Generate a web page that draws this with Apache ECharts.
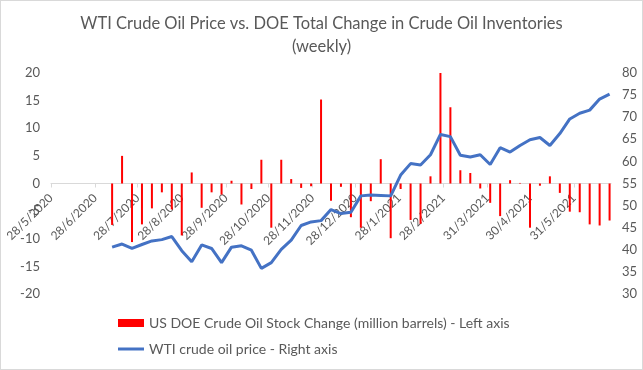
<!DOCTYPE html>
<html>
<head>
<meta charset="utf-8">
<script src="https://cdn.jsdelivr.net/npm/echarts@6/dist/echarts.min.js"></script>
<style>
  html, body { margin: 0; padding: 0; background: #fff; }
  #chart { width: 643px; height: 370px; box-sizing: border-box; border: 1px solid #d9d9d9; }
</style>
</head>
<body>
<div id="chart"></div>
<script>
// weekly dates (week ending)
const weeks = [
  '2020-07-10','2020-07-17','2020-07-24','2020-07-31','2020-08-07','2020-08-14','2020-08-21','2020-08-28',
  '2020-09-04','2020-09-11','2020-09-18','2020-09-25','2020-10-02','2020-10-09','2020-10-16','2020-10-23',
  '2020-10-30','2020-11-06','2020-11-13','2020-11-20','2020-11-27','2020-12-04','2020-12-11','2020-12-18',
  '2020-12-25','2021-01-01','2021-01-08','2021-01-15','2021-01-22','2021-01-29','2021-02-05','2021-02-12',
  '2021-02-19','2021-02-26','2021-03-05','2021-03-12','2021-03-19','2021-03-26','2021-04-02','2021-04-09',
  '2021-04-16','2021-04-23','2021-04-30','2021-05-07','2021-05-14','2021-05-21','2021-05-28','2021-06-04',
  '2021-06-11','2021-06-18','2021-06-25'
];
// US DOE crude oil stock change, million barrels (left axis)
const stockChange = [
  -7.5, 5.0, -10.6, -7.4, -4.5, -1.6, -4.7, -9.4,
  2.0, -4.4, -1.6, -2.0, 0.5, -3.8, -1.0, 4.3,
  -8.0, 4.3, 0.8, -0.8, -0.5, 15.2, -3.1, -0.6,
  -6.1, -8.0, -3.2, 4.4, -9.9, -1.0, -6.6, -7.3,
  1.3, 20.0, 13.8, 2.4, 1.9, -0.9, -3.5, -5.9,
  0.6, 0.1, -8.0, -0.4, 1.3, -1.7, -5.1, -5.2,
  -7.4, -7.6, -6.7
];
// WTI crude oil price (right axis)
const wtiPrice = [
  40.6, 41.3, 40.3, 41.2, 42.0, 42.3, 43.0, 39.8,
  37.3, 41.1, 40.3, 37.1, 40.6, 40.9, 39.9, 35.8,
  37.1, 40.1, 42.2, 45.5, 46.3, 46.6, 49.1, 48.2,
  48.5, 52.2, 52.4, 52.3, 52.2, 56.9, 59.5, 59.2,
  61.5, 66.1, 65.6, 61.4, 61.0, 61.5, 59.3, 63.1,
  62.1, 63.6, 64.9, 65.4, 63.6, 66.3, 69.6, 70.9,
  71.6, 74.1, 75.2
];
// x axis labels
const tickDates = ['2020-05-28','2020-06-28','2020-07-28','2020-08-28','2020-09-28','2020-10-28',
  '2020-11-28','2020-12-28','2021-01-28','2021-02-28','2021-03-31','2021-04-30','2021-05-31'];
const axisStart = '2020-05-28';
const axisEnd = '2021-06-26';

function t(s) {
  const p = s.split('-').map(Number);
  return Date.UTC(p[0], p[1] - 1, p[2]);
}

const font = 'Lato, "Liberation Sans", sans-serif';
const grey = '#595959';

var myChart = echarts.init(document.getElementById('chart'));

var option = {
  animation: false,
  textStyle: { fontFamily: font },
  title: {
    text: 'WTI Crude Oil Price vs. DOE Total Change in Crude Oil Inventories\n(weekly)',
    left: 'center',
    top: 6,
    textStyle: { fontSize: 16.5, fontWeight: 'normal', color: grey, lineHeight: 23, fontFamily: font }
  },
  legend: {
    orient: 'vertical',
    left: 112,
    top: 310,
    itemWidth: 26,
    itemHeight: 8,
    itemGap: 12,
    textStyle: { fontSize: 14, color: grey, fontFamily: font },
    data: [
      { name: 'US DOE Crude Oil Stock Change (million barrels) - Left axis', icon: 'rect' },
      { name: 'WTI crude oil price - Right axis', icon: 'path://M0,0H26V3H0Z', itemStyle: { color: '#4472c4' } }
    ]
  },
  grid: { left: 50, right: 31, top: 72, bottom: 75, outerBoundsMode: 'none' },
  xAxis: {
    type: 'value',
    min: t(axisStart),
    max: t(axisEnd),
    axisLine: { onZero: true, lineStyle: { color: '#d9d9d9' } },
    axisTick: { show: true, length: 4, lineStyle: { color: '#d9d9d9' }, customValues: tickDates.map(t) },
    axisLabel: {
      customValues: tickDates.map(t),
      rotate: 45,
      margin: -98,
      fontSize: 12,
      color: grey,
      formatter: function (v) {
        var d = new Date(v);
        return d.getUTCDate() + '/' + (d.getUTCMonth() + 1) + '/' + d.getUTCFullYear();
      }
    },
    splitLine: { show: false }
  },
  yAxis: [
    {
      type: 'value', min: -20, max: 20, interval: 5,
      axisLine: { show: false }, axisTick: { show: false },
      splitLine: { show: false },
      axisLabel: { fontSize: 13, color: grey, margin: 11 }
    },
    {
      type: 'value', min: 30, max: 80, interval: 5, position: 'right',
      axisLine: { show: false }, axisTick: { show: false },
      splitLine: { show: false },
      axisLabel: { fontSize: 13, color: grey, margin: 11 }
    }
  ],
  series: [
    {
      name: 'US DOE Crude Oil Stock Change (million barrels) - Left axis',
      type: 'bar',
      yAxisIndex: 0,
      barWidth: 2,
      itemStyle: { color: '#ff0000' },
      data: weeks.map(function (w, i) { return [t(w), stockChange[i]]; })
    },
    {
      name: 'WTI crude oil price - Right axis',
      type: 'line',
      yAxisIndex: 1,
      symbol: 'none',
      lineStyle: { color: '#4472c4', width: 3 },
      itemStyle: { color: '#4472c4' },
      data: weeks.map(function (w, i) { return [t(w), wtiPrice[i]]; })
    }
  ]
};

myChart.setOption(option);
</script>
</body>
</html>
